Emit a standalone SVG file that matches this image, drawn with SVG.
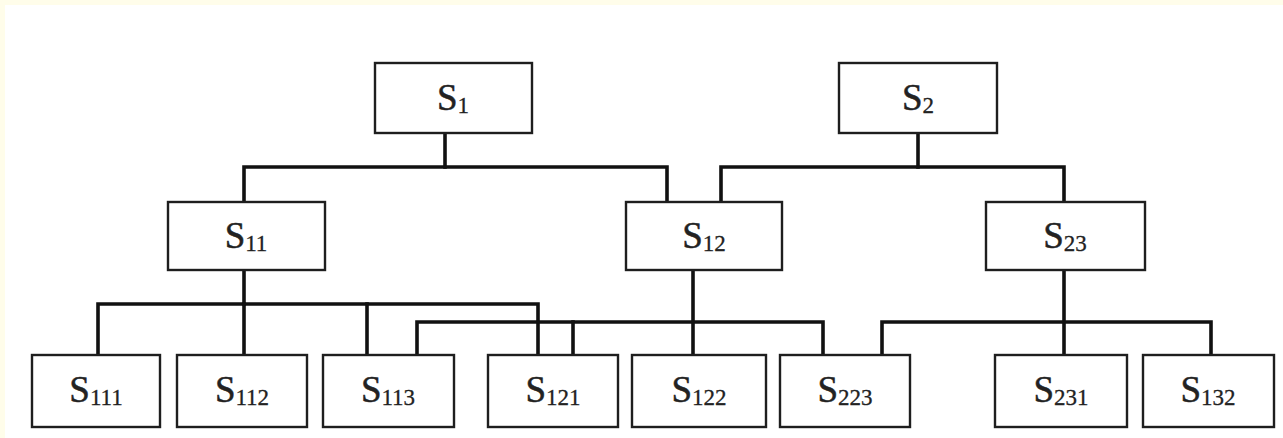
<svg xmlns="http://www.w3.org/2000/svg" width="1283" height="438" viewBox="0 0 1283 438">
<style>
.box{fill:#fff;stroke:#1e1e1e;stroke-width:2.4}
.lbl{font-family:"Liberation Serif","Times New Roman",serif;font-size:37px;fill:#222;stroke:#222;stroke-width:0.5;text-anchor:middle}
.sub{font-size:23px;stroke-width:0.3}
#connectors path{fill:none;stroke:#111;stroke-width:3.6;stroke-linejoin:miter;stroke-linecap:square}
</style>
<rect x="0" y="0" width="1283" height="438" fill="#fff"/>
<rect x="0" y="0" width="1283" height="5" fill="#fffdea"/>
<rect x="0" y="0" width="5" height="438" fill="#fffdea"/>
<g id="connectors">
<path d="M445,133 V167"/>
<path d="M244,202 V167 H667 V202"/>
<path d="M918,133 V167"/>
<path d="M721,202 V167 H1064 V202"/>
<path d="M244,270 V304"/>
<path d="M98,355 V304 H538 V355"/>
<path d="M244,304 V355"/>
<path d="M367,304 V355"/>
<path d="M693,270 V355"/>
<path d="M417,355 V322 H823 V355"/>
<path d="M573,322 V355"/>
<path d="M1064,270 V355"/>
<path d="M882,355 V322 H1211 V355"/>
</g>
<g id="n-S1"><rect class="box" x="375" y="63" width="157" height="70"/><text class="lbl" x="453" y="110">S<tspan class="sub" dy="3">1</tspan></text></g>
<g id="n-S2"><rect class="box" x="839" y="63" width="158" height="70"/><text class="lbl" x="918" y="110">S<tspan class="sub" dy="3">2</tspan></text></g>
<g id="n-S11"><rect class="box" x="168" y="202" width="157" height="68"/><text class="lbl" x="246" y="248">S<tspan class="sub" dy="3">11</tspan></text></g>
<g id="n-S12"><rect class="box" x="626" y="202" width="156" height="68"/><text class="lbl" x="704" y="248">S<tspan class="sub" dy="3">12</tspan></text></g>
<g id="n-S23"><rect class="box" x="986" y="202" width="159" height="68"/><text class="lbl" x="1065" y="248">S<tspan class="sub" dy="3">23</tspan></text></g>
<g id="n-S111"><rect class="box" x="32" y="355" width="128" height="72"/><text class="lbl" x="96" y="402">S<tspan class="sub" dy="3">111</tspan></text></g>
<g id="n-S112"><rect class="box" x="177" y="355" width="130" height="72"/><text class="lbl" x="242" y="402">S<tspan class="sub" dy="3">112</tspan></text></g>
<g id="n-S113"><rect class="box" x="323" y="355" width="131" height="72"/><text class="lbl" x="388" y="402">S<tspan class="sub" dy="3">113</tspan></text></g>
<g id="n-S121"><rect class="box" x="488" y="355" width="130" height="72"/><text class="lbl" x="553" y="402">S<tspan class="sub" dy="3">121</tspan></text></g>
<g id="n-S122"><rect class="box" x="632" y="355" width="134" height="72"/><text class="lbl" x="699" y="402">S<tspan class="sub" dy="3">122</tspan></text></g>
<g id="n-S223"><rect class="box" x="780" y="355" width="130" height="72"/><text class="lbl" x="845" y="402">S<tspan class="sub" dy="3">223</tspan></text></g>
<g id="n-S231"><rect class="box" x="995" y="355" width="132" height="72"/><text class="lbl" x="1061" y="402">S<tspan class="sub" dy="3">231</tspan></text></g>
<g id="n-S132"><rect class="box" x="1143" y="355" width="131" height="72"/><text class="lbl" x="1208" y="402">S<tspan class="sub" dy="3">132</tspan></text></g>
</svg>
